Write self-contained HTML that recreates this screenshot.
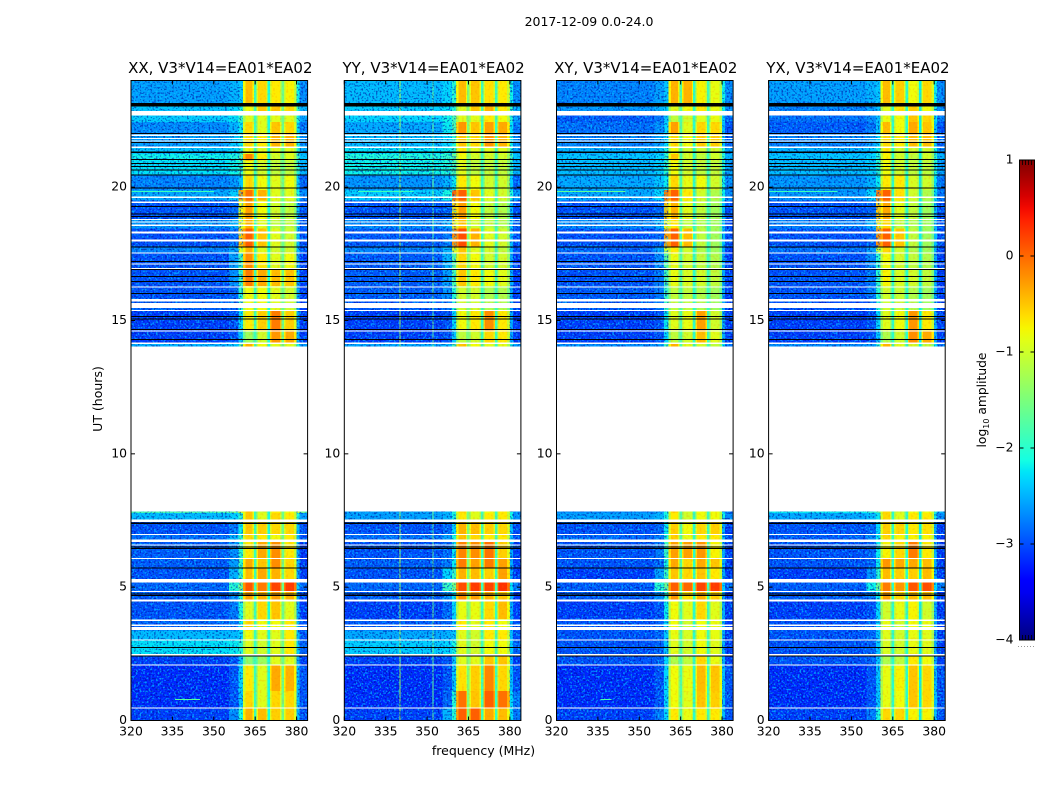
<!DOCTYPE html>
<html lang="en">
<head>
<meta charset="utf-8">
<title>2017-12-09 0.0-24.0</title>
<style>
html,body{margin:0;padding:0;background:#fff;width:1050px;height:800px;overflow:hidden}
svg{display:block}
text{font-family:"DejaVu Sans","Liberation Sans",sans-serif;fill:#000}
.tick{font-size:12.4px}
.title{font-size:15px}
.label{font-size:12.5px}
</style>
</head>
<body>
<svg id="chart" width="1050" height="800" viewBox="0 0 1050 800" xmlns="http://www.w3.org/2000/svg">
  <defs>
    <filter id="speckle-light" x="0" y="0" width="100%" height="100%" color-interpolation-filters="sRGB">
      <feTurbulence type="fractalNoise" baseFrequency="0.55" numOctaves="1" seed="7"/>
      <feColorMatrix type="matrix" values="0 0 0 0 0  0 0 0 0 0.78  0 0 0 0 1  6 0 0 0 -3.05"/>
    </filter>
    <filter id="speckle-dark" x="0" y="0" width="100%" height="100%" color-interpolation-filters="sRGB">
      <feTurbulence type="fractalNoise" baseFrequency="0.55" numOctaves="1" seed="23"/>
      <feColorMatrix type="matrix" values="0 0 0 0 0  0 0 0 0 0  0 0 0 0 0.6  6 0 0 0 -3.15"/>
    </filter>
    <filter id="speckle-band" x="0" y="0" width="100%" height="100%" color-interpolation-filters="sRGB">
      <feTurbulence type="fractalNoise" baseFrequency="0.45" numOctaves="1" seed="41"/>
      <feColorMatrix type="matrix" values="0 0 0 0 1  0 0 0 0 0.45  0 0 0 0 0  6 0 0 0 -3.2"/>
    </filter>
    <linearGradient id="jet-gradient" x1="0" y1="1" x2="0" y2="0"></linearGradient>
  </defs>
  <text x="589" y="26" text-anchor="middle" class="label">2017-12-09 0.0-24.0</text>
  <text x="483.5" y="755" text-anchor="middle" class="label">frequency (MHz)</text>
  <text transform="translate(102,399) rotate(-90)" text-anchor="middle" class="label">UT (hours)</text>
  <text transform="translate(986,400) rotate(-90)" text-anchor="middle" class="label" style="font-size:12.3px">log<tspan dy="3" font-size="8">10</tspan><tspan dy="-3"> amplitude</tspan></text>
  <g id="panels"></g>
  <g id="colorbar"></g>
</svg>
<script>
// ---- Axis data ----
const panelTitles = ["XX, V3*V14=EA01*EA02", "YY, V3*V14=EA01*EA02", "XY, V3*V14=EA01*EA02", "YX, V3*V14=EA01*EA02"];
const xTickValues = [320, 335, 350, 365, 380];
const yTickValues = [0, 5, 10, 15, 20];
const colorTickValues = [1, 0, -1, -2, -3, -4];

// ---- Heatmap bins: frequency columns (MHz) and time rows (UT hours, top to bottom) ----
const freqEdges = [320, 355.5, 359, 360.5, 365, 370, 375, 380, 384];
const timeEdges = [24, 23.15, 22.85, 22.45, 22.04, 21.46, 21.25, 21.0, 20.45, 19.9, 19.5, 18.8, 18.45, 17.75, 17.55, 16.9, 16.3, 15.8, 15.36, 14.6, 14.15, 14.02, 7.84, 7.79, 7.53, 7.0, 6.78, 6.1, 5.72, 5.2, 4.85, 4.5, 3.8, 3.38, 3.0, 2.5, 2.1, 1.1, 0.45, 0];

// ---- log10 amplitude per time row / frequency column ----
const xxValues = [
[-2.6,-2.5,-2.4,-.45,-.6,-.7,-.75,-2.7],[-2.4,-2.3,-2.1,-.8,-.5,-.5,-.6,-2.5],[-2.35,-2.25,-1.9,-.9,-.9,-.9,-.9,-2.6],[-2.7,-2.5,-2.2,-.6,-.9,-.5,-.6,-2.8],
[-2.6,-2.4,-2.2,-.6,-.7,-.4,-.4,-2.7],[-2.4,-2.3,-2,-.8,-.9,-.9,-.9,-2.5],[-2.15,-2.05,-1.7,-.15,-.7,-1,-.9,-2.4],[-2.25,-2.15,-1.9,-.8,-1,-1.1,-1.1,-2.5],
[-2.75,-2.65,-2.4,-.6,-.8,-.9,-.8,-2.9],[-2.55,-2.35,-.3,-.05,-.4,-.9,-.9,-2.7],[-3,-2.9,-.8,-.3,-.8,-1,-1.1,-3],[-2.65,-2.5,-.9,-.4,-.9,-1.1,-1.1,-2.9],
[-3,-2.9,-.5,.05,-.5,-.9,-1,-3],[-2.75,-2.55,-.9,-.4,-.9,-1,-1,-3],[-3,-2.6,-1.8,-.2,-.7,-.9,-.8,-3.1],[-3,-2.7,-1.9,-.1,-.35,-.45,-.5,-3.1],
[-3,-2.9,-2,-.8,-.8,-.9,-1,-3.1],[-2.9,-2.9,-2,-.8,-.8,-.9,-1,-3.1],[-3.1,-3,-2.3,-.7,-.55,-.1,-.55,-3.1],[-3.1,-3,-2.4,-1.3,-1,-.25,-.35,-3.1],
[-2.5,-2.4,-1.6,-.4,-.8,-.9,-.9,-2.6],null,
[-1.8,-1.6,-1,-.5,-1,-.7,-.8,-1.6],[-2.45,-2.35,-2,-.5,-.9,-.6,-.7,-2.6],[-3,-2.8,-2.2,-.5,-.55,-.6,-.6,-3],[-2.85,-2.5,-2,-.6,-.7,-.8,-.7,-3],
[-2.95,-2.7,-2,-.7,-.35,-.2,-.7,-3.1],[-2.95,-2.6,-1.9,-.35,-.5,-.2,-.6,-3.1],[-3,-2.5,-1.9,-.45,-.35,-.4,-.6,-3.1],[-2.9,-2,-1.5,.1,-.1,.2,.25,-2.9],
[-2.95,-2.7,-2,-.3,-.4,-.3,-.4,-3.1],[-3,-2.8,-2.1,-.9,-.6,-.5,-.9,-3.1],[-2.9,-2.8,-2.2,-.6,-.8,-.8,-.7,-3],[-2.45,-2.45,-2.3,-.8,-.9,-.9,-.7,-3],
[-2.25,-2.2,-2,-.9,-1,-.9,-.7,-2.9],[-3.1,-3,-2.4,-1.4,-1.3,-.9,-.9,-3.1],[-3.2,-3,-2.3,-.7,-.9,-.35,-.4,-3],[-3.2,-3,-2.4,-.6,-.9,-.6,-.6,-3],
[-3.1,-2.7,-2.1,-.4,-.45,-.55,-.55,-3]];
const yyValues = [
[-2.45,-2.3,-2,-.45,-.5,-.65,-.7,-2.7],[-2.35,-2.25,-2,-.9,-.5,-.4,-.7,-2.5],[-2.3,-2.15,-1.8,-.9,-.9,-.7,-.8,-2.6],[-2.55,-2.2,-1.8,-.25,-.5,-.3,-.35,-2.8],
[-2.45,-2.3,-2,-.5,-.6,-.25,-.4,-2.7],[-2.25,-2.15,-1.9,-.7,-.9,-.9,-.9,-2.6],[-2.05,-1.95,-1.6,-.8,-1,-1,-1,-2.4],[-2.15,-2.05,-1.8,-.9,-1.1,-1.1,-1.1,-2.5],
[-2.65,-2.5,-2.2,-.7,-.8,-1,-1,-2.9],[-2.35,-2.1,0,.05,-.5,-.9,-1,-2.6],[-3,-2.9,-.6,-.3,-.8,-1.1,-1.2,-3],[-2.7,-2.5,-.7,-.5,-1,-1.1,-1.2,-2.9],
[-2.95,-2.8,-.2,.15,-.4,-.9,-1,-3],[-2.75,-2.5,-.9,-.5,-.9,-1,-1.1,-3],[-2.95,-2.5,-1.7,-.6,-.8,-1,-1,-3.1],[-2.95,-2.6,-1.8,-.5,-.7,-.8,-.9,-3.1],
[-2.95,-2.7,-2,-1,-1,-1.2,-1.2,-3.1],[-2.95,-2.8,-2,-1,-1,-1.2,-1.2,-3.1],[-3.1,-3,-2.3,-.8,-.7,-.2,-.7,-3.1],[-3.1,-3,-2.4,-1.1,-1,-.6,-.7,-3.1],
[-2.55,-2.45,-1.8,-.5,-.8,-.9,-.9,-2.6],null,
[-2.6,-2.5,-2,-.6,-.9,-.8,-.7,-2.7],[-2.6,-2.5,-2.1,-.7,-.9,-.7,-.7,-2.7],[-3,-2.9,-2.3,-.4,-.45,-.55,-.6,-3],[-2.85,-2.6,-2.1,-.5,-.6,-.7,-.7,-3],
[-3,-2.9,-2.2,-.15,-.2,-.05,-.55,-3.1],[-2.95,-2.8,-2.2,-.1,-.3,-.1,-.3,-3.1],[-3,-2.3,-1.9,-.4,-.45,-.55,-.3,-3.1],[-2.9,-1.9,-1.5,.15,.25,.2,.3,-2.8],
[-2.95,-2.7,-2.2,-.2,-.3,-.4,-.5,-3.1],[-3.1,-2.9,-2.3,-.85,-.85,-.6,-.45,-3.1],[-2.95,-2.9,-2.4,-.7,-.9,-.7,-.8,-3],[-2.55,-2.5,-2.4,-.9,-1,-.7,-.7,-3],
[-2.35,-2.3,-2.1,-.9,-1,-.8,-.8,-2.9],[-3.1,-3,-2.4,-.9,-.9,-.5,-.5,-3.1],[-3.2,-3,-2.4,-.65,-.55,-.15,-.6,-3],[-3.2,-2.9,-2,-.05,-.5,.05,-.05,-2.8],
[-3.1,-2.5,-2,.05,.05,-.35,-.45,-2.8]];
const xyValues = [
[-2.75,-2.6,-2.4,-.4,-.4,-.75,-.85,-2.7],[-2.65,-2.5,-2.3,-.9,-.8,-.7,-.85,-2.7],[-2.95,-2.8,-2.4,-1.1,-1,-.9,-.85,-2.9],[-2.85,-2.7,-2.3,-.3,-.9,-.6,-.6,-3],
[-2.75,-2.6,-2.3,-.6,-.8,-.55,-.55,-2.9],[-2.5,-2.4,-2.1,-.8,-1,-1,-1,-2.6],[-2.4,-2.3,-2,-.5,-1,-1.1,-1,-2.5],[-2.45,-2.35,-2,-.8,-1,-1.1,-1.1,-2.6],
[-2.55,-2.4,-2.2,-.6,-.85,-.8,-1,-2.7],[-2.55,-2.3,-.1,.05,-.7,-1,-1.2,-2.7],[-3,-2.9,-.5,-.4,-.9,-1.1,-1.3,-3],[-2.7,-2.5,-.8,-.7,-1.1,-1.2,-1.3,-3],
[-3,-2.9,-.3,.05,-.45,-1.1,-1.3,-3],[-2.9,-2.6,-1,-.7,-1,-1.2,-1.3,-3.1],[-3,-2.7,-1.7,-.85,-1,-1.1,-1.2,-3.1],[-3,-2.8,-1.8,-.85,-.95,-1,-1.1,-3.1],
[-2.95,-2.8,-1.9,-1.1,-1.1,-1.2,-1.3,-3.1],[-2.95,-2.8,-1.9,-1.1,-1.1,-1.2,-1.3,-3.1],[-3.1,-3,-2.2,-.9,-.85,-.3,-1,-3.1],[-3.1,-3,-2.3,-1.1,-1,-.45,-.9,-3.1],
[-2.7,-2.6,-1.8,-.4,-.9,-1,-1.1,-2.8],null,
[-2.7,-2.6,-2.1,-.6,-1,-.8,-.8,-2.8],[-2.6,-2.5,-2.1,-.7,-1,-.8,-.8,-2.7],[-3,-2.9,-2.2,-.55,-.8,-.6,-.55,-3.1],[-2.9,-2.8,-2.1,-.55,-.85,-.7,-.7,-3],
[-3,-2.8,-1.9,-.3,-.3,-.25,-.75,-3.1],[-3,-2.9,-2.1,-.35,-.6,-.35,-.5,-3.1],[-3.1,-2.6,-1.9,-.5,-.6,-.5,-.7,-3.1],[-2.95,-2,-1.6,.05,0,.2,.25,-2.9],
[-2.95,-2.7,-2,-.25,-.65,-.4,-.55,-3.1],[-3.1,-3,-2.2,-.8,-.9,-.6,-.9,-3.1],[-3,-2.9,-2.3,-.8,-1,-.8,-.85,-3.1],[-3,-2.9,-2.4,-.85,-.95,-.8,-.85,-3.1],
[-3,-2.9,-2.4,-.9,-1,-.8,-.9,-3.1],[-3,-2.9,-2.3,-1.2,-1.1,-.6,-.85,-3.1],[-3.2,-3,-2.3,-.8,-.85,-.45,-.5,-3],[-3.2,-3,-2.3,-.8,-.9,-.5,-.55,-3],
[-3.1,-2.8,-2.3,-.7,-.85,-.7,-.7,-3]];
const yxValues = [
[-2.6,-2.5,-2.4,-.45,-.55,-.8,-.6,-2.7],[-2.75,-2.6,-2.4,-.9,-.65,-.55,-.8,-2.7],[-2.85,-2.7,-2.4,-.85,-.8,-.5,-.6,-2.8],[-2.95,-2.8,-2.4,-.45,-.8,-.35,-.5,-3],
[-2.75,-2.6,-2.3,-.6,-.7,-.45,-.45,-2.9],[-2.5,-2.4,-2.1,-.7,-1,-1,-1,-2.7],[-2.4,-2.3,-2,-.75,-1,-1.1,-1,-2.5],[-2.45,-2.35,-2,-.8,-1,-1.1,-1.1,-2.6],
[-2.65,-2.5,-2.2,-.7,-.7,-.95,-1,-2.8],[-2.65,-2.3,-.1,.05,-.65,-1,-1.2,-2.8],[-3,-2.9,-.5,-.35,-.9,-1.1,-1.3,-3],[-2.75,-2.5,-.7,-.6,-1.1,-1.2,-1.3,-3],
[-3,-2.9,-.2,.05,-.5,-1.1,-1.3,-3],[-2.85,-2.6,-1,-.6,-1,-1.2,-1.3,-3.1],[-3,-2.7,-2,-.8,-1,-1.1,-1.2,-3.1],[-3,-2.8,-2,-.75,-.95,-1,-1.1,-3.1],
[-3,-2.8,-2,-1,-1.05,-1.2,-1.3,-3.1],[-3,-2.9,-2,-1,-1.05,-1.2,-1.3,-3.1],[-3.1,-3,-2.3,-.9,-.8,-.25,-.7,-3.1],[-3.1,-3,-2.4,-1.2,-1,-.2,-.35,-3.1],
[-2.7,-2.6,-1.9,-.4,-.9,-1,-1.1,-2.8],null,
[-2.2,-2,-1.6,-.6,-1,-.8,-.8,-2.5],[-2.55,-2.45,-2.2,-.6,-.9,-.7,-.7,-2.7],[-3,-2.9,-2.3,-.55,-.6,-.7,-.65,-3.1],[-2.95,-2.7,-2.2,-.6,-.75,-.75,-.75,-3.1],
[-3,-2.9,-2.2,-.75,-.6,-.1,-.7,-3.1],[-3,-2.9,-2.2,-.25,-.35,-.35,-.45,-3.1],[-3.1,-2.7,-2,-.45,-.55,-.55,-.45,-3.1],[-2.95,-2.15,-1.6,-.1,-.25,.1,.15,-2.8],
[-2.95,-2.8,-2.2,-.3,-.6,-.45,-.45,-3.1],[-3.1,-3,-2.3,-1,-.85,-.75,-1,-3.1],[-3,-2.9,-2.3,-.85,-1,-.8,-.85,-3.1],[-3,-2.9,-2.4,-.9,-1,-.85,-.9,-3.1],
[-3,-2.9,-2.4,-.95,-1,-.85,-.9,-3.1],[-3,-2.9,-2.4,-1.2,-1.1,-.7,-.8,-3.1],[-3.2,-3,-2.4,-.85,-.75,-.5,-.6,-3],[-3.2,-3,-2.4,-.85,-.8,-.5,-.6,-3],
[-3.1,-2.8,-2.1,-.6,-.6,-.75,-.75,-3]];

// ---- Narrow channels between spectral windows: centre frequency and per-panel level ----
const notchFreqs = [365, 370, 375];
const xxNotchLevels = [-1.9, -2.1, -1.6];
const yyNotchLevels = [-1.5, -1.9, -1.9];
const xyNotchLevels = [-1.8, -2.0, -1.9];
const yxNotchLevels = [-2.0, -2.0, -2.2];

// ---- Always-on interference channels ----
const yyRfiFreqs = [340, 352];
const yyRfiLevels = [-1.2, -1.6];

// ---- Short interference bursts: [hour, start MHz, end MHz, log10 amplitude] ----
const xxBursts = [[0.8, 336, 345, -1.7], [19.85, 320, 350, -1.9]];
const yyBursts = [[19.85, 325, 345, -1.9]];
const xyBursts = [[19.85, 320, 345, -1.7], [0.8, 336, 340, -1.8]];
const yxBursts = [[19.85, 320, 345, -1.9]];

// ---- Flagged (blank) and dropped (black) time ranges, hours ----
const whiteGaps = [[22.85,22.69],[21.97,21.91],[21.85,21.81],[21.75,21.72],[21.52,21.46],[19.65,19.6],[19.46,19.4],[18.81,18.76],[18.72,18.69],[18.6,18.55],[18.33,18.27],[18.04,17.97],[17.55,17.51],[17.14,17.1],[16.96,16.91],[16.28,16.24],[15.81,15.72],[15.65,15.47],[15.4,15.36],[14.62,14.58],[14.17,14.12],[14.02,7.84],[7.53,7.44],[7.0,6.96],[6.78,6.69],[6.6,6.56],[6.1,6.06],[5.31,5.17],[4.85,4.81],[4.54,4.46],[3.79,3.74],[3.6,3.54],[3.5,3.4],[3.04,3.0],[2.5,2.43],[2.1,2.06],[0.49,0.45]];
const blackLines = [[23.16,23.03],[22.04,22.0],[21.7,21.67],[21.33,21.29],[21.06,21.03],[20.91,20.88],[20.8,20.77],[20.66,20.63],[20.48,20.44],[19.99,19.96],[19.3,19.27],[19.01,18.98],[18.91,18.88],[17.77,17.73],[17.23,17.2],[16.93,16.9],[16.66,16.63],[16.48,16.45],[16.03,16.0],[15.16,15.13],[15.07,15.04],[14.69,14.65],[14.31,14.27],[7.42,7.37],[6.53,6.5],[6.47,6.44],[5.73,5.7],[4.76,4.73],[4.7,4.67],[2.76,2.73],[2.44,2.41]];

// ---- Geometry and axis functions ----
const SVGNS = "http://www.w3.org/2000/svg";
const panelLefts = [131, 344.3, 556.5, 768.6];
const panelWidth = 176.6;
const plotTop = 80.5, plotBottom = 720.5;
const panelValues = [xxValues, yyValues, xyValues, yxValues];
const panelNotches = [xxNotchLevels, yyNotchLevels, xyNotchLevels, yxNotchLevels];
const panelRfiFreqs = [[], yyRfiFreqs, [], []];
const panelRfiLevels = [[], yyRfiLevels, [], []];
const panelBursts = [xxBursts, yyBursts, xyBursts, yxBursts];
const panelNames = ["xx", "yy", "xy", "yx"];
const rimWidth = 0.95, rimDrop = 0.35, edgeLift = 0.55;

function xScale(panel, freq) { return panelLefts[panel] + (freq - 320) / 64 * panelWidth; }
function yScale(hour) { return plotBottom - hour / 24 * (plotBottom - plotTop); }
function colorY(v) { return 160 + (1 - v) / 5 * 480; }

function lerpStops(stops, t) {
  for (let i = 1; i < stops.length; i++) {
    if (t <= stops[i][0]) {
      const a = stops[i - 1], b = stops[i];
      return a[1] + (b[1] - a[1]) * (t - a[0]) / (b[0] - a[0]);
    }
  }
  return stops[stops.length - 1][1];
}
function jet(t) {
  t = Math.max(0, Math.min(1, t));
  const r = lerpStops([[0,0],[.35,0],[.66,1],[.89,1],[1,.5]], t);
  const g = lerpStops([[0,0],[.125,0],[.375,1],[.64,1],[.91,0],[1,0]], t);
  const b = lerpStops([[0,.5],[.11,1],[.34,1],[.65,0],[1,0]], t);
  return "rgb(" + Math.round(r * 255) + "," + Math.round(g * 255) + "," + Math.round(b * 255) + ")";
}
function levelColor(v) { return jet((v + 4) / 5); }

function make(tag, attrs, parent) {
  const el = document.createElementNS(SVGNS, tag);
  for (const k in attrs) el.setAttribute(k, attrs[k]);
  parent.appendChild(el);
  return el;
}

const panelsRoot = document.getElementById("panels");

panelTitles.forEach(function (title, p) {
  const g = make("g", {}, panelsRoot);
  
  

  const values = panelValues[p];
  const cells = make("g", { "shape-rendering": "crispEdges" }, g);
  
  

  values.forEach(function (row, r) {
    if (!row) return;
    const y0 = yScale(timeEdges[r]), y1 = yScale(timeEdges[r + 1]);
    row.forEach(function (v, c) {
      const x0 = xScale(p, freqEdges[c]), x1 = xScale(p, freqEdges[c + 1]);
      const cell = make("rect", { x: x0, y: y0, width: x1 - x0, height: y1 - y0, fill: levelColor(v) }, cells);
      
      
      if (c >= 3 && c <= 6) {
        // Each spectral window rolls off towards its edges.
        const rimA = make("rect", { x: x0, y: y0, width: xScale(p, freqEdges[c] + rimWidth) - x0, height: y1 - y0, fill: levelColor(v - rimDrop) }, cells);
        
        
        const rimStart = xScale(p, freqEdges[c + 1] - rimWidth);
        const rimB = make("rect", { x: rimStart, y: y0, width: x1 - rimStart, height: y1 - y0, fill: levelColor(v - rimDrop) }, cells);
        
        
      }
      if (c === 7) {
        const lift = make("rect", { x: x0, y: y0, width: xScale(p, freqEdges[c] + 1.1) - x0, height: y1 - y0, fill: levelColor(v + edgeLift) }, cells);
        
        
      }
    });
    notchFreqs.forEach(function (f, n) {
      const xn = xScale(p, f - 0.45);
      const notch = make("rect", { x: xn, y: y0, width: xScale(p, f + 0.45) - xn, height: y1 - y0, fill: levelColor(panelNotches[p][n]) }, cells);
      
      
    });
  });

  panelRfiFreqs[p].forEach(function (f, i) {
    const rfi = make("rect", { x: xScale(p, f), y: yScale(24), width: 1, height: yScale(0) - yScale(24), fill: levelColor(panelRfiLevels[p][i]) }, cells);
    
    
  });

  // Decorative pixel-level speckle over the noise floor (not data).
  [[320, 360.5], [380, 384]].forEach(function (span) {
    const x0 = xScale(p, span[0]), w = xScale(p, span[1]) - x0;
    const light = make("rect", { x: x0, y: yScale(24), width: w, height: yScale(0) - yScale(24), filter: "url(#speckle-light)", opacity: 0.7 }, g);
    
    
    const dark = make("rect", { x: x0, y: yScale(24), width: w, height: yScale(0) - yScale(24), filter: "url(#speckle-dark)", opacity: 0.55 }, g);
    
    
  });
  const bandTexture = make("rect", { x: xScale(p, 360.5), y: yScale(24), width: xScale(p, 380) - xScale(p, 360.5), height: yScale(0) - yScale(24), filter: "url(#speckle-band)", opacity: 0.18 }, g);
  
  

  const bursts = make("g", { "shape-rendering": "crispEdges" }, g);
  
  
  panelBursts[p].forEach(function (b) {
    const burst = make("rect", { x: xScale(p, b[1]), y: yScale(b[0]), width: xScale(p, b[2]) - xScale(p, b[1]), height: 1, fill: levelColor(b[3]) }, bursts);
    
    
  });

  const flags = make("g", { "shape-rendering": "crispEdges" }, g);
  
  
  whiteGaps.forEach(function (gap) {
    const w = make("rect", { x: xScale(p, 320), y: yScale(gap[0]), width: panelWidth, height: Math.max(1, yScale(gap[1]) - yScale(gap[0])), fill: "#fff" }, flags);
    
    
  });
  blackLines.forEach(function (gap) {
    const b = make("rect", { x: xScale(p, 320), y: yScale(gap[0]), width: panelWidth, height: Math.max(1, yScale(gap[1]) - yScale(gap[0])), fill: "#000" }, flags);
    
    
  });

  const frame = make("rect", { x: panelLefts[p], y: plotTop, width: panelWidth, height: plotBottom - plotTop, fill: "none", stroke: "#000", "stroke-width": 1 }, g);
  
  

  const titleEl = make("text", { x: panelLefts[p] + panelWidth / 2 + 1, y: 73, "text-anchor": "middle", class: "title" }, g);
  titleEl.textContent = title;
  
  

  xTickValues.forEach(function (f) {
    const x = xScale(p, f);
    const tb = make("line", { x1: x, x2: x, y1: plotBottom, y2: plotBottom - 4, stroke: "#000" }, g);
    
    
    const tt = make("line", { x1: x, x2: x, y1: plotTop, y2: plotTop + 4, stroke: "#000" }, g);
    
    
    const lab = make("text", { x: x, y: 735.5, "text-anchor": "middle", class: "tick" }, g);
    lab.textContent = f;
    
    
  });

  yTickValues.forEach(function (h) {
    const y = yScale(h);
    const tl = make("line", { x1: panelLefts[p], x2: panelLefts[p] + 4, y1: y, y2: y, stroke: "#000" }, g);
    
    
    const tr = make("line", { x1: panelLefts[p] + panelWidth, x2: panelLefts[p] + panelWidth - 4, y1: y, y2: y, stroke: "#000" }, g);
    
    
    const lab = make("text", { x: panelLefts[p] - 4, y: y + 3.5, "text-anchor": "end", class: "tick" }, g);
    lab.textContent = h;
    
    
  });
});

// ---- Colorbar ----
const gradient = document.getElementById("jet-gradient");
for (let i = 0; i <= 40; i++) {
  make("stop", { offset: (i / 40 * 100) + "%", "stop-color": jet(i / 40) }, gradient);
}
const cbRoot = document.getElementById("colorbar");
const cbLeft = 1019.5, cbRight = 1034.5;
const cbBar = make("rect", { x: cbLeft, y: colorY(1), width: cbRight - cbLeft, height: colorY(-4) - colorY(1), fill: "url(#jet-gradient)", stroke: "#000", "stroke-width": 1 }, cbRoot);



colorTickValues.forEach(function (v) {
  const y = colorY(v);
  const l = make("line", { x1: cbLeft, x2: cbLeft + 4, y1: y, y2: y, stroke: "#000" }, cbRoot);
  
  
  const r = make("line", { x1: cbRight, x2: cbRight - 4, y1: y, y2: y, stroke: "#000" }, cbRoot);
  
  
  const lab = make("text", { x: cbLeft - 6, y: y + 3.5, "text-anchor": "end", class: "tick" }, cbRoot);
  lab.textContent = v < 0 ? "\u2212" + Math.abs(v) : String(v);
  
  
});

for (let i = 1; i <= 4; i++) {
  const x = cbLeft + i * 3;
  const mt = make("line", { x1: x, x2: x, y1: colorY(1), y2: colorY(1) + 5, stroke: "#000", "stroke-width": 0.8 }, cbRoot);
  
  
  const mb = make("line", { x1: x, x2: x, y1: colorY(-4), y2: colorY(-4) - 5, stroke: "#000", "stroke-width": 0.8 }, cbRoot);
  
  
}
for (let i = 0; i < 6; i++) {
  const dot = make("rect", { x: 1018 + i * 3, y: 646, width: 1, height: 1, fill: "#999" }, cbRoot);
  
  
}
</script>
</body>
</html>
